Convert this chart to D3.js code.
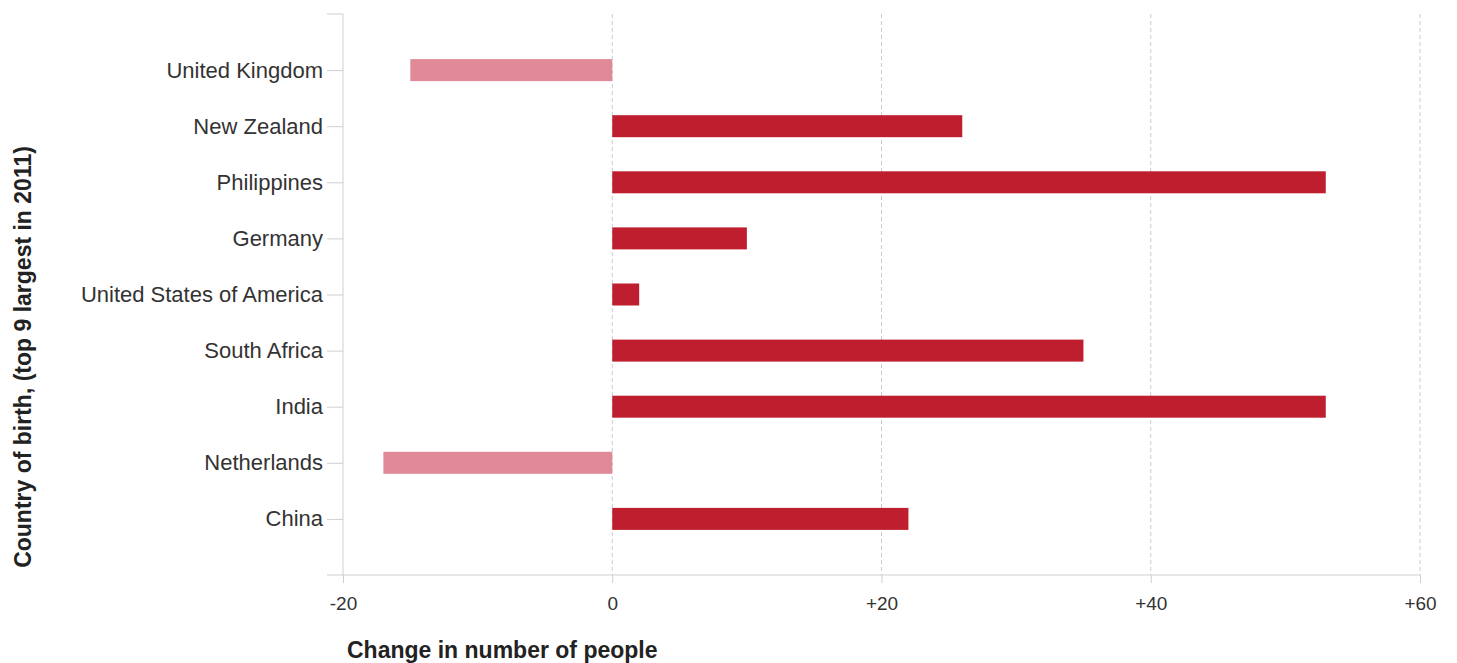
<!DOCTYPE html>
<html><head><meta charset="utf-8">
<script src="https://cdn.jsdelivr.net/npm/d3@7"></script>
<style>body{margin:0;background:#fff}svg{display:block}</style>
</head><body>
<svg id="c" width="1457" height="663"></svg>
<script>
const categories = ["United Kingdom","New Zealand","Philippines","Germany","United States of America","South Africa","India","Netherlands","China"];
const values = [-15, 26, 53, 10, 2, 35, 53, -17, 22];
const xTicks = [-20, 0, 20, 40, 60];
const xTickLabels = ["-20", "0", "+20", "+40", "+60"];

(function () {
const svg = d3.select("#c");
const pLeft = 343, pRight = 1420, pTop = 14, pBottom = 575;
const x = d3.scaleLinear().domain([-20, 60]).range([pLeft, pRight]);
const y = d3.scalePoint().domain(categories).range([pTop, pBottom]).padding(1);
const axisColor = "#cfcfcf";
const font = "Liberation Sans, Arial, sans-serif";

// gridlines
svg.append("g").selectAll("line").data(xTicks.filter(d => d !== -20)).join("line")
  .attr("x1", d => x(d)).attr("x2", d => x(d)).attr("y1", pTop).attr("y2", pBottom)
  .attr("stroke", "#cccccc").attr("stroke-dasharray", "4,3").attr("stroke-width", 1);

// bars
const bh = 22;
svg.append("g").selectAll("rect").data(categories).join("rect")
  .attr("x", (d, i) => x(Math.min(0, values[i])))
  .attr("width", (d, i) => Math.abs(x(values[i]) - x(0)))
  .attr("y", d => y(d) - bh / 2)
  .attr("height", bh)
  .attr("fill", (d, i) => values[i] < 0 ? "#e08a98" : "#be1e2d");

// y axis
const yAxis = d3.axisLeft(y).tickSize(16).tickPadding(4);
const gy = svg.append("g").attr("transform", `translate(${pLeft},0)`).call(yAxis);
gy.select(".domain").remove();
gy.append("line").attr("x1", 0).attr("x2", 0).attr("y1", pTop).attr("y2", pBottom).attr("stroke", axisColor);
gy.append("line").attr("x1", -16).attr("x2", 0).attr("y1", pTop).attr("y2", pTop).attr("stroke", axisColor);
gy.selectAll(".tick line").attr("stroke", axisColor);
gy.selectAll(".tick text").attr("fill", "#333").style("font-family", font).style("font-size", "22px");

// x axis
const xAxis = d3.axisBottom(x).tickValues(xTicks).tickFormat((d, i) => xTickLabels[i]).tickSize(8).tickPadding(14);
const gx = svg.append("g").attr("transform", `translate(0,${pBottom})`).call(xAxis);
gx.select(".domain").remove();
gx.append("line").attr("x1", pLeft - 16).attr("x2", pRight).attr("y1", 0).attr("y2", 0).attr("stroke", axisColor);
gx.selectAll(".tick line").attr("stroke", axisColor);
gx.selectAll(".tick text").attr("fill", "#333").style("font-family", font).style("font-size", "19px");

// titles
svg.append("text").attr("x", 347).attr("y", 658).text("Change in number of people")
  .attr("fill", "#222").style("font-family", font).style("font-size", "23px").style("font-weight", "bold");
svg.append("text").attr("transform", "translate(31,357) rotate(-90)").attr("text-anchor", "middle")
  .text("Country of birth, (top 9 largest in 2011)")
  .attr("fill", "#222").style("font-family", font).style("font-size", "23px").style("font-weight", "bold");
})();
</script>
</body></html>
